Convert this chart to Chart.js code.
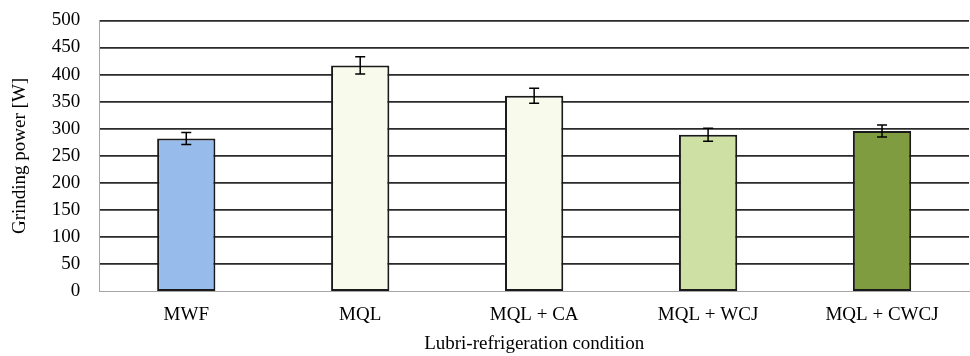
<!DOCTYPE html>
<html>
<head>
<meta charset="utf-8">
<script src="https://cdn.jsdelivr.net/npm/chart.js@4/dist/chart.umd.min.js"></script>
<style>
  html, body { margin: 0; padding: 0; background: #fff; }
  #wrap { width: 970px; height: 356px; position: relative; }
</style>
</head>
<body>
<div id="wrap"><canvas id="powerChart"></canvas></div>
<script>
const conditions = ['MWF', 'MQL', 'MQL + CA', 'MQL + WCJ', 'MQL + CWCJ'];
const power      = [282, 417, 361, 289, 296];
const powerErr   = [11, 16, 14, 12, 11];
const barColors  = ['#97bbea', '#f8fbeb', '#f8fbeb', '#cfe0a4', '#809c40'];

const FONT = { family: 'Liberation Serif', size: 19 };

// whiskers on top of each bar
const errorBars = {
  id: 'errorBars',
  afterDatasetsDraw(chart) {
    const { ctx, scales: { y } } = chart;
    const meta = chart.getDatasetMeta(0);
    ctx.save();
    ctx.strokeStyle = '#000';
    ctx.lineWidth = 1.5;
    meta.data.forEach((bar, i) => {
      const yTop = y.getPixelForValue(power[i] + powerErr[i]);
      const yBot = y.getPixelForValue(power[i] - powerErr[i]);
      const cap = 5;
      ctx.beginPath();
      ctx.moveTo(bar.x, yTop); ctx.lineTo(bar.x, yBot);
      ctx.moveTo(bar.x - cap, yTop); ctx.lineTo(bar.x + cap, yTop);
      ctx.moveTo(bar.x - cap, yBot); ctx.lineTo(bar.x + cap, yBot);
      ctx.stroke();
    });
    ctx.restore();
  },
};

new Chart(document.getElementById('powerChart'), {
  type: 'bar',
  data: {
    labels: conditions,
    datasets: [{
      data: power,
      backgroundColor: barColors,
      borderColor: '#1a1a1a',
      borderWidth: 2,
      borderSkipped: false,
      categoryPercentage: 1,
      barPercentage: 0.335,
    }],
  },
  options: {
    responsive: true,
    maintainAspectRatio: false,
    animation: false,
    layout: { padding: { left: 9, right: 1, top: 0, bottom: 1 } },
    plugins: { legend: { display: false }, tooltip: { enabled: false } },
    scales: {
      x: {
        grid: { display: false, drawTicks: false },
        border: { display: true, color: '#a6a6a6', width: 1 },
        ticks: { color: '#000', font: FONT, padding: 12 },
        title: {
          display: true, text: 'Lubri-refrigeration condition',
          color: '#000', font: FONT, padding: { top: -6, bottom: 0 },
        },
      },
      y: {
        min: 0, max: 500,
        ticks: { stepSize: 50, color: '#000', font: FONT, padding: 9 },
        grid: {
          drawTicks: true,
          tickLength: 10,
          tickColor: 'rgba(0,0,0,0)',
          color: c => c.tick.value === 0 ? '#a6a6a6' : '#2a2a2a',
          lineWidth: c => c.tick.value === 0 ? 1 : 1.8,
        },
        border: { display: true, color: '#a6a6a6', width: 1 },
        title: {
          display: true, text: 'Grinding power [W]',
          color: '#000', font: FONT, padding: { top: 0, bottom: 11 },
        },
      },
    },
  },
  plugins: [errorBars],
});
</script>
</body>
</html>
